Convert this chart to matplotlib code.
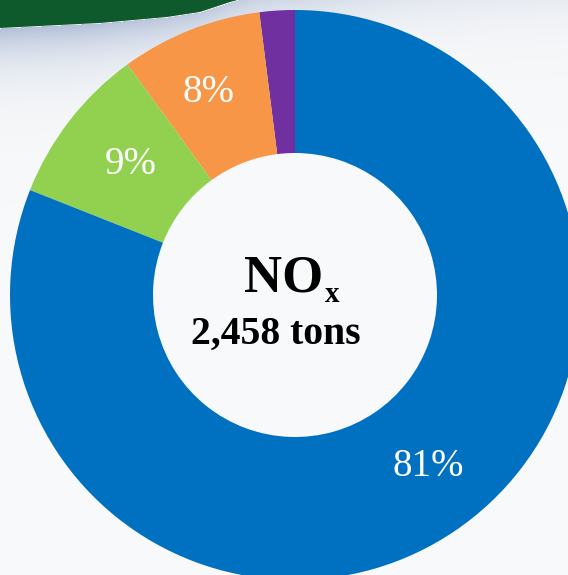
import numpy as np
import matplotlib
matplotlib.use("Agg")
import matplotlib.pyplot as plt

# NOx share by source
shares = [2, 8, 9, 81]
colors = ["#7030A0", "#F79646", "#92D050", "#0070C0"]
total_label = "2,458 tons"

W, H = 568, 575
bg = "#F8F9FA"
fig = plt.figure(figsize=(W / 100, H / 100), dpi=100)
fig.patch.set_facecolor(bg)
ax = fig.add_axes([0, 0, 1, 1])
ax.set_facecolor(bg)

# lower edge of the green banner (pixel rows from the top)
curve_x = [0, 100, 167, 200, 230, 260, 600]
curve_y = [28, 23, 17, 12, 2, -6, -30]

# bluish haze under the banner
xx, yy = np.meshgrid(np.arange(W), np.arange(H))
edge = np.interp(xx, curve_x, curve_y)
d = yy - edge
alpha = np.where(d > 0, np.exp(-d / 32.0), 0.0)
alpha *= np.clip(1.1 - xx / 700.0, 0.5, 1)
haze = np.zeros((H, W, 4))
haze[..., 0] = 0.70
haze[..., 1] = 0.75
haze[..., 2] = 0.85
haze[..., 3] = np.clip(alpha, 0, 1)
ax.imshow(haze, extent=(0, W, 0, H), origin="upper", zorder=0, aspect="auto")

# dark green banner in the top-left corner
bx = np.linspace(0, 260, 80)
by = np.interp(bx, curve_x, curve_y)
bx = np.concatenate([[0], bx, [0]])
by = np.concatenate([[-10], by, [-10]])
ax.fill(bx, H - by, color="#0F5A2C", zorder=1, lw=0)


def pct_fmt(p):
    return "" if p < 5 else "%d%%" % round(p)


wedges, texts, autotexts = ax.pie(
    shares, colors=colors, startangle=90, counterclock=True,
    radius=285, center=(295, H - 295),
    wedgeprops=dict(width=143, linewidth=0),
    autopct=pct_fmt, pctdistance=0.76,
    textprops=dict(color="white", fontsize=28, family="Liberation Serif"))
for w in wedges:
    w.set_zorder(2)

# small nudges for the percentage labels (pixels, x right / y down)
nudges = [(0, 0), (-7, -1), (7, 2), (12, -8)]
for t, (dx, dy) in zip(autotexts, nudges):
    x, y = t.get_position()
    t.set_position((x + dx, y - dy))
    t.set_zorder(3)

# centre caption
ax.text(323, H - 292, "NO", ha="right", va="baseline", fontsize=38,
        fontweight="bold", family="Liberation Serif", color="black", zorder=4)
ax.text(325, H - 302, "x", ha="left", va="baseline", fontsize=21,
        fontweight="bold", family="Liberation Serif", color="black", zorder=4)
ax.text(276, H - 344, total_label, ha="center", va="baseline", fontsize=28.5,
        fontweight="bold", family="Liberation Serif", color="black", zorder=4)

ax.set_xlim(0, W)
ax.set_ylim(0, H)
ax.set_aspect("auto")
ax.axis("off")

fig.savefig("out.png", dpi=100, facecolor=fig.get_facecolor())
